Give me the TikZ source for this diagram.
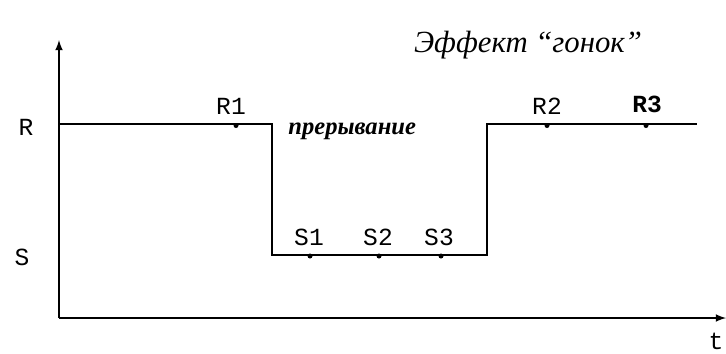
\documentclass[tikz,border=0pt]{standalone}
\usepackage{fontspec}
\setmainfont{Liberation Serif}
\newfontfamily\labfont{Liberation Mono}
\begin{document}
\begin{tikzpicture}[x=0.02cm, y=-0.02cm, >=latex,
	lab/.style={font=\labfont\fontsize{14}{16}\selectfont, inner sep=0pt},
	mark dot/.style={fill=black}]
	\useasboundingbox (0,0) rectangle (726,353);
	
	% axes
	\coordinate (O) at (59,318);
	\coordinate (ytop) at (59,40);
	\coordinate (xend) at (726,318);
	\draw[line width=1pt, ->] (O) -- (ytop);
	\draw[line width=1pt, ->] (O) -- (xend);
	
	% signal
	\coordinate (r0) at (59,124);
	\coordinate (r1) at (272,124);
	\coordinate (s0) at (272,255);
	\coordinate (s1) at (487,255);
	\coordinate (r2) at (487,124);
	\coordinate (r3) at (697,124);
	\draw[line width=1pt] (r0) -- (r1) -- (s0) -- (s1) -- (r2) -- (r3);
	
	\fill[mark dot] (236,125.5) circle [radius=2.5];
	\fill[mark dot] (547,125.5) circle [radius=2.5];
	\fill[mark dot] (646,125.5) circle [radius=2.5];
	\fill[mark dot] (310,256) circle [radius=2.5];
	\fill[mark dot] (379,256) circle [radius=2.5];
	\fill[mark dot] (441,256) circle [radius=2.5];
	
	\node[lab] (lR) at (26,127) {R};
	\node[lab] (lS) at (22,257) {S};
	\node[lab] (lt) at (716,341) {t};
	\node[lab] (lR1) at (231,106) {R1};
	\node[lab] (lR2) at (547,106) {R2};
	\node[lab, font=\labfont\fontsize{14}{16}\selectfont\bfseries] (lR3) at (647,104) {R3};
	\node[lab] (lS1) at (309,237) {S1};
	\node[lab] (lS2) at (378,237) {S2};
	\node[lab] (lS3) at (439,237) {S3};
	
	\node[anchor=west, inner sep=0pt, font=\bfseries\itshape\fontsize{14}{16}\selectfont] (brk) at (288,131) {прерывание};
	\node[inner sep=0pt, font=\itshape\fontsize{17.5}{21}\selectfont] (title) at (528,45) {Эффект “гонок”};
\end{tikzpicture}
\end{document}
